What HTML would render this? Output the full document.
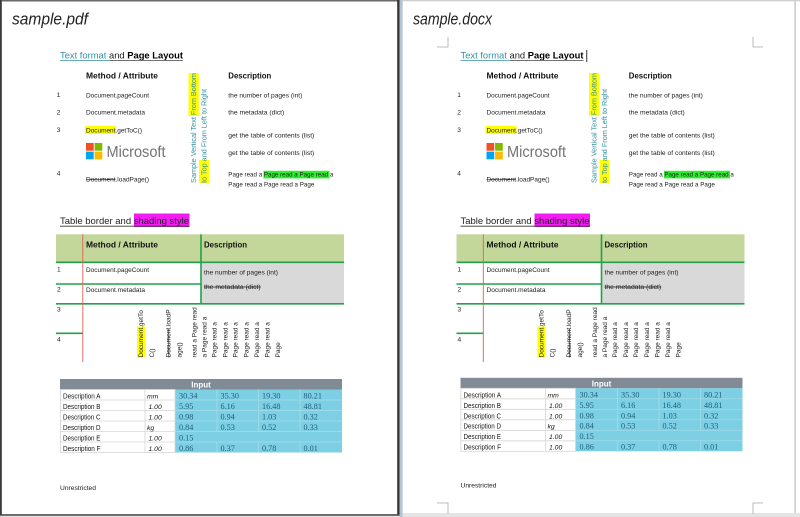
<!DOCTYPE html>
<html>
<head>
<meta charset="utf-8">
<style>
html,body{margin:0;padding:0;background:#e2e2e2;}
svg{display:block;}
</style>
</head>
<body>
<svg xmlns="http://www.w3.org/2000/svg" width="800" height="517" viewBox="0 0 800 517" font-family="'Liberation Sans', Arial, sans-serif">
<!-- backgrounds / frames -->
<rect x="0" y="0" width="800" height="517" fill="#e2e2e2"/>
<rect x="0" y="0" width="399.5" height="515.5" fill="#ffffff"/>
<rect x="0" y="0" width="399.5" height="1.5" fill="#6a6a6a"/>
<rect x="0" y="0" width="1.8" height="515.5" fill="#3a3a3a"/>
<rect x="397.2" y="0" width="2.3" height="515.5" fill="#333333"/>
<rect x="0" y="514.2" width="399.5" height="1.5" fill="#444444"/>
<rect x="399.5" y="0" width="3.2" height="517" fill="#b4c2d6"/>
<rect x="402.7" y="0" width="397.3" height="513" fill="#ffffff"/>
<rect x="402.7" y="0" width="397.3" height="1.3" fill="#cfcfcf"/>
<rect x="794.3" y="0" width="1.7" height="513" fill="#cfcfcf"/>
<rect x="402.7" y="513" width="397.3" height="4" fill="#e4e4e4"/>

<!-- corner marks right page -->
<g fill="none" stroke="#a8a8a8" stroke-width="0.8">
<polyline points="437,47 448,47 448,37"/>
<polyline points="753,37 753,47 763,47"/>
<polyline points="437,503 448,503 448,514"/>
<polyline points="763,503 753,503 753,514"/>
</g>

<!-- titles -->
<text x="12" y="24.5" font-size="17" font-style="italic" fill="#222" textLength="76" lengthAdjust="spacingAndGlyphs">sample.pdf</text>
<text x="413" y="24.5" font-size="17" font-style="italic" fill="#222" textLength="79" lengthAdjust="spacingAndGlyphs">sample.docx</text>

<!-- ================= LEFT PAGE ================= -->
<g>
<!-- Section 1 -->
<text x="60" y="58.3" font-size="9.3" fill="#222" textLength="123" lengthAdjust="spacingAndGlyphs"><tspan fill="#3590a5">Text format</tspan> and <tspan font-weight="bold" fill="#000">Page Layout</tspan></text>
<line x1="60" y1="60.4" x2="110" y2="60.4" stroke="#3590a5" stroke-width="0.8"/>
<line x1="110" y1="60.4" x2="183" y2="60.4" stroke="#444" stroke-width="0.8"/>

<text x="86" y="78.5" font-size="8.4" font-weight="bold" fill="#111" textLength="72" lengthAdjust="spacingAndGlyphs">Method / Attribute</text>
<text x="228.3" y="78.5" font-size="8.4" font-weight="bold" fill="#111" textLength="43" lengthAdjust="spacingAndGlyphs">Description</text>

<g font-size="6.6" fill="#222">
<text x="56.7" y="97">1</text>
<text x="86" y="97.3" textLength="63" lengthAdjust="spacingAndGlyphs">Document.pageCount</text>
<text x="228.3" y="97.3" textLength="74" lengthAdjust="spacingAndGlyphs">the number of pages (int)</text>
<text x="56.7" y="114.5">2</text>
<text x="86" y="114.7" textLength="59" lengthAdjust="spacingAndGlyphs">Document.metadata</text>
<text x="228.3" y="114.7" textLength="56" lengthAdjust="spacingAndGlyphs">the metadata (dict)</text>
<text x="56.7" y="132">3</text>
<rect x="85" y="126" width="31" height="8" fill="#ffff00"/>
<text x="86" y="132.3" textLength="56" lengthAdjust="spacingAndGlyphs">Document.getToC()</text>
<text x="228.3" y="137.7" textLength="86" lengthAdjust="spacingAndGlyphs">get the table of contents (list)</text>
<text x="228.3" y="155.2" textLength="86" lengthAdjust="spacingAndGlyphs">get the table of contents (list)</text>
<text x="56.7" y="175.5">4</text>
<text x="86" y="181.7" textLength="63" lengthAdjust="spacingAndGlyphs">Document.loadPage()</text>
<line x1="86" y1="179.3" x2="115.5" y2="179.3" stroke="#222" stroke-width="0.7"/>
<rect x="263.5" y="170.8" width="66" height="7.6" fill="#2bf02b"/>
<text x="228.3" y="176.7" textLength="105" lengthAdjust="spacingAndGlyphs">Page read a Page read a Page read a</text>
<text x="228.3" y="186.3" textLength="86" lengthAdjust="spacingAndGlyphs">Page read a Page read a Page</text>
</g>
<!-- Microsoft logo -->
<rect x="86" y="143" width="7.7" height="7.7" fill="#f25022"/>
<rect x="94.6" y="143" width="7.7" height="7.7" fill="#7fba00"/>
<rect x="86" y="151.6" width="7.7" height="7.7" fill="#00a4ef"/>
<rect x="94.6" y="151.6" width="7.7" height="7.7" fill="#ffb900"/>
<text x="106.5" y="156.8" font-size="15.5" fill="#737373" textLength="59" lengthAdjust="spacingAndGlyphs">Microsoft</text>
<!-- vertical text -->
<rect x="188.5" y="73" width="10.3" height="43" fill="#ffff00"/>
<rect x="199" y="160" width="10" height="23" fill="#ffff00"/>
<text transform="translate(196,183) rotate(-90)" font-size="7.6" fill="#3590a5" textLength="110" lengthAdjust="spacingAndGlyphs">Sample Vertical Text From Bottom</text>
<text transform="translate(206.5,183) rotate(-90)" font-size="7.6" fill="#3590a5" textLength="94" lengthAdjust="spacingAndGlyphs">to Top and From Left to Right</text>

<!-- Section 2 -->
<rect x="134" y="213.5" width="55.5" height="13.5" fill="#f01cf0"/>
<text x="60" y="223.8" font-size="9.4" fill="#222" textLength="129" lengthAdjust="spacingAndGlyphs">Table border and shading style</text>
<line x1="60" y1="226.2" x2="189.5" y2="226.2" stroke="#333" stroke-width="0.8"/>

<rect x="56" y="234.3" width="288" height="27.7" fill="#c4d79b"/>
<rect x="201.5" y="263" width="142.5" height="40.5" fill="#d9d9d9"/>
<g stroke="#22a04a" stroke-width="1.6">
<line x1="56" y1="262.3" x2="344" y2="262.3"/>
<line x1="56" y1="284" x2="201" y2="284"/>
<line x1="56" y1="303.8" x2="344" y2="303.8"/>
<line x1="56" y1="333.3" x2="83" y2="333.3"/>
<line x1="201" y1="234.3" x2="201" y2="304.5"/>
</g>
<line x1="82.8" y1="234.3" x2="82.8" y2="362" stroke="#e06050" stroke-width="0.9"/>

<text x="86" y="247.3" font-size="8.4" font-weight="bold" fill="#111" textLength="72" lengthAdjust="spacingAndGlyphs">Method / Attribute</text>
<text x="204" y="247.3" font-size="8.4" font-weight="bold" fill="#111" textLength="43" lengthAdjust="spacingAndGlyphs">Description</text>
<g font-size="6.6" fill="#222">
<text x="57" y="271.5">1</text>
<text x="86" y="272" textLength="63" lengthAdjust="spacingAndGlyphs">Document.pageCount</text>
<text x="204" y="274.5" textLength="74" lengthAdjust="spacingAndGlyphs">the number of pages (int)</text>
<text x="57" y="291.5">2</text>
<text x="86" y="292" textLength="59" lengthAdjust="spacingAndGlyphs">Document.metadata</text>
<text x="204" y="289" textLength="56.7" lengthAdjust="spacingAndGlyphs">the metadata (dict)</text>
<line x1="204" y1="287" x2="260.7" y2="287" stroke="#222" stroke-width="0.7"/>
<text x="57" y="311.5">3</text>
<text x="57" y="341.5">4</text>
</g>
<rect x="137" y="326.5" width="8" height="31" fill="#ffff00"/>
<g font-size="6.5" fill="#222">
<text transform="translate(142.8,357.5) rotate(-90)">Document.getTo</text>
<text transform="translate(154,357.5) rotate(-90)">C()</text>
<text transform="translate(170.6,357.5) rotate(-90)">Document.loadP</text>
<text transform="translate(181.6,357.5) rotate(-90)">age()</text>
<text transform="translate(196.6,357.5) rotate(-90)">read a Page read</text>
<text transform="translate(206.6,357.5) rotate(-90)">a Page read a</text>
<text transform="translate(216.6,357.5) rotate(-90)">Page read a</text>
<text transform="translate(227.3,357.5) rotate(-90)">Page read a</text>
<text transform="translate(237.6,357.5) rotate(-90)">Page read a</text>
<text transform="translate(248.3,357.5) rotate(-90)">Page read a</text>
<text transform="translate(259,357.5) rotate(-90)">Page read a</text>
<text transform="translate(269.6,357.5) rotate(-90)">Page read a</text>
<text transform="translate(280,357.5) rotate(-90)">Page</text>
</g>
<line x1="168.8" y1="357.5" x2="168.8" y2="328.5" stroke="#222" stroke-width="0.7"/>

<!-- Section 3 -->
<g>
<rect x="60" y="379" width="282" height="10.5" fill="#808b96"/>
<text x="201" y="387.6" font-size="8" font-weight="bold" fill="#fff" text-anchor="middle">Input</text>
<rect x="175" y="389.5" width="167" height="63" fill="#7dcfe4"/>
<g stroke="#a8dcea" stroke-width="0.7">
<line x1="175" y1="400" x2="342" y2="400"/>
<line x1="175" y1="410.5" x2="342" y2="410.5"/>
<line x1="175" y1="421" x2="342" y2="421"/>
<line x1="175" y1="431.5" x2="342" y2="431.5"/>
<line x1="175" y1="442" x2="342" y2="442"/>
<line x1="217" y1="389.5" x2="217" y2="431.5"/>
<line x1="258.5" y1="389.5" x2="258.5" y2="431.5"/>
<line x1="300" y1="389.5" x2="300" y2="431.5"/>
<line x1="217" y1="442" x2="217" y2="452.5"/>
<line x1="258.5" y1="442" x2="258.5" y2="452.5"/>
<line x1="300" y1="442" x2="300" y2="452.5"/>
</g>
<g stroke="#d6d6d6" stroke-width="0.8" fill="none">
<rect x="60.4" y="389.5" width="114.6" height="63"/>
<line x1="60" y1="400" x2="175" y2="400"/>
<line x1="60" y1="410.5" x2="175" y2="410.5"/>
<line x1="60" y1="421" x2="175" y2="421"/>
<line x1="60" y1="431.5" x2="175" y2="431.5"/>
<line x1="60" y1="442" x2="175" y2="442"/>
<line x1="145" y1="389.5" x2="145" y2="452.5"/>
</g>
<g font-size="7.2" fill="#111">
<text x="63" y="398.6" textLength="37.5" lengthAdjust="spacingAndGlyphs">Description A</text>
<text x="63" y="409.05" textLength="37.5" lengthAdjust="spacingAndGlyphs">Description B</text>
<text x="63" y="419.5" textLength="37.5" lengthAdjust="spacingAndGlyphs">Description C</text>
<text x="63" y="429.95" textLength="37.5" lengthAdjust="spacingAndGlyphs">Description D</text>
<text x="63" y="440.4" textLength="37.5" lengthAdjust="spacingAndGlyphs">Description E</text>
<text x="63" y="450.85" textLength="37.5" lengthAdjust="spacingAndGlyphs">Description F</text>
</g>
<g font-size="6.8" font-style="italic" fill="#111">
<text x="147" y="398.6">mm</text>
<text x="148.5" y="409.05">1.00</text>
<text x="148.5" y="419.5">1.00</text>
<text x="147" y="429.95">kg</text>
<text x="148.5" y="440.4">1.00</text>
<text x="148.5" y="450.85">1.00</text>
</g>
<g font-family="'Liberation Serif', 'Times New Roman', serif" font-size="8.2" fill="#205f7c">
<text x="179" y="398.6">30.34</text><text x="220.5" y="398.6">35.30</text><text x="262" y="398.6">19.30</text><text x="303.5" y="398.6">80.21</text>
<text x="179" y="409.05">5.95</text><text x="220.5" y="409.05">6.16</text><text x="262" y="409.05">16.48</text><text x="303.5" y="409.05">48.81</text>
<text x="179" y="419.5">0.98</text><text x="220.5" y="419.5">0.94</text><text x="262" y="419.5">1.03</text><text x="303.5" y="419.5">0.32</text>
<text x="179" y="429.95">0.84</text><text x="220.5" y="429.95">0.53</text><text x="262" y="429.95">0.52</text><text x="303.5" y="429.95">0.33</text>
<text x="179" y="440.4">0.15</text>
<text x="179" y="450.85">0.86</text><text x="220.5" y="450.85">0.37</text><text x="262" y="450.85">0.78</text><text x="303.5" y="450.85">0.01</text>
</g>
</g>
<text x="60" y="490" font-size="6.7" fill="#222" textLength="36" lengthAdjust="spacingAndGlyphs">Unrestricted</text>
</g>

<!-- ================= RIGHT PAGE ================= -->
<g transform="translate(400.5,0)">
<!-- Section 1 -->
<text x="60" y="58.3" font-size="9.3" fill="#222" textLength="123" lengthAdjust="spacingAndGlyphs"><tspan fill="#3590a5">Text format</tspan> and <tspan font-weight="bold" fill="#000">Page Layout</tspan></text>
<line x1="60" y1="60.4" x2="110" y2="60.4" stroke="#3590a5" stroke-width="0.8"/>
<line x1="110" y1="60.4" x2="183" y2="60.4" stroke="#444" stroke-width="0.8"/>
<line x1="186.3" y1="50" x2="186.3" y2="62" stroke="#000" stroke-width="0.8"/>

<text x="86" y="78.5" font-size="8.4" font-weight="bold" fill="#111" textLength="72" lengthAdjust="spacingAndGlyphs">Method / Attribute</text>
<text x="228.3" y="78.5" font-size="8.4" font-weight="bold" fill="#111" textLength="43" lengthAdjust="spacingAndGlyphs">Description</text>

<g font-size="6.6" fill="#222">
<text x="56.7" y="97">1</text>
<text x="86" y="97.3" textLength="63" lengthAdjust="spacingAndGlyphs">Document.pageCount</text>
<text x="228.3" y="97.3" textLength="74" lengthAdjust="spacingAndGlyphs">the number of pages (int)</text>
<text x="56.7" y="114.5">2</text>
<text x="86" y="114.7" textLength="59" lengthAdjust="spacingAndGlyphs">Document.metadata</text>
<text x="228.3" y="114.7" textLength="56" lengthAdjust="spacingAndGlyphs">the metadata (dict)</text>
<text x="56.7" y="132">3</text>
<rect x="85" y="126" width="31" height="8" fill="#ffff00"/>
<text x="86" y="132.3" textLength="56" lengthAdjust="spacingAndGlyphs">Document.getToC()</text>
<text x="228.3" y="137.7" textLength="86" lengthAdjust="spacingAndGlyphs">get the table of contents (list)</text>
<text x="228.3" y="155.2" textLength="86" lengthAdjust="spacingAndGlyphs">get the table of contents (list)</text>
<text x="56.7" y="175.5">4</text>
<text x="86" y="181.7" textLength="63" lengthAdjust="spacingAndGlyphs">Document.loadPage()</text>
<line x1="86" y1="179.3" x2="115.5" y2="179.3" stroke="#222" stroke-width="0.7"/>
<rect x="263.5" y="170.8" width="66" height="7.6" fill="#2bf02b"/>
<text x="228.3" y="176.7" textLength="105" lengthAdjust="spacingAndGlyphs">Page read a Page read a Page read a</text>
<text x="228.3" y="186.3" textLength="86" lengthAdjust="spacingAndGlyphs">Page read a Page read a Page</text>
</g>
<rect x="86" y="143" width="7.7" height="7.7" fill="#f25022"/>
<rect x="94.6" y="143" width="7.7" height="7.7" fill="#7fba00"/>
<rect x="86" y="151.6" width="7.7" height="7.7" fill="#00a4ef"/>
<rect x="94.6" y="151.6" width="7.7" height="7.7" fill="#ffb900"/>
<text x="106.5" y="156.8" font-size="15.5" fill="#737373" textLength="59" lengthAdjust="spacingAndGlyphs">Microsoft</text>
<rect x="188.5" y="73" width="10.3" height="43" fill="#ffff00"/>
<rect x="199" y="160" width="10" height="23" fill="#ffff00"/>
<text transform="translate(196,183) rotate(-90)" font-size="7.6" fill="#3590a5" textLength="110" lengthAdjust="spacingAndGlyphs">Sample Vertical Text From Bottom</text>
<text transform="translate(206.5,183) rotate(-90)" font-size="7.6" fill="#3590a5" textLength="94" lengthAdjust="spacingAndGlyphs">to Top and From Left to Right</text>

<!-- Section 2 -->
<rect x="134" y="213.5" width="55.5" height="13.5" fill="#f01cf0"/>
<text x="60" y="223.8" font-size="9.4" fill="#222" textLength="129" lengthAdjust="spacingAndGlyphs">Table border and shading style</text>
<line x1="60" y1="226.2" x2="189.5" y2="226.2" stroke="#333" stroke-width="0.8"/>

<rect x="56" y="234.3" width="288" height="27.7" fill="#c4d79b"/>
<rect x="201.5" y="263" width="142.5" height="40.5" fill="#d9d9d9"/>
<g stroke="#22a04a" stroke-width="1.6">
<line x1="56" y1="262.3" x2="344" y2="262.3"/>
<line x1="56" y1="284" x2="201" y2="284"/>
<line x1="56" y1="303.8" x2="344" y2="303.8"/>
<line x1="56" y1="333.3" x2="83" y2="333.3"/>
<line x1="201" y1="234.3" x2="201" y2="304.5"/>
</g>
<line x1="82.8" y1="234.3" x2="82.8" y2="362" stroke="#e06050" stroke-width="0.9"/>

<text x="86" y="247.3" font-size="8.4" font-weight="bold" fill="#111" textLength="72" lengthAdjust="spacingAndGlyphs">Method / Attribute</text>
<text x="204" y="247.3" font-size="8.4" font-weight="bold" fill="#111" textLength="43" lengthAdjust="spacingAndGlyphs">Description</text>
<g font-size="6.6" fill="#222">
<text x="57" y="271.5">1</text>
<text x="86" y="272" textLength="63" lengthAdjust="spacingAndGlyphs">Document.pageCount</text>
<text x="204" y="274.5" textLength="74" lengthAdjust="spacingAndGlyphs">the number of pages (int)</text>
<text x="57" y="291.5">2</text>
<text x="86" y="292" textLength="59" lengthAdjust="spacingAndGlyphs">Document.metadata</text>
<text x="204" y="289" textLength="56.7" lengthAdjust="spacingAndGlyphs">the metadata (dict)</text>
<line x1="204" y1="287" x2="260.7" y2="287" stroke="#222" stroke-width="0.7"/>
<text x="57" y="311.5">3</text>
<text x="57" y="341.5">4</text>
</g>
<rect x="137" y="326.5" width="8" height="31" fill="#ffff00"/>
<g font-size="6.5" fill="#222">
<text transform="translate(142.8,357.5) rotate(-90)">Document.getTo</text>
<text transform="translate(154,357.5) rotate(-90)">C()</text>
<text transform="translate(170.6,357.5) rotate(-90)">Document.loadP</text>
<text transform="translate(181.6,357.5) rotate(-90)">age()</text>
<text transform="translate(196.6,357.5) rotate(-90)">read a Page read</text>
<text transform="translate(206.6,357.5) rotate(-90)">a Page read a</text>
<text transform="translate(216.6,357.5) rotate(-90)">Page read a</text>
<text transform="translate(227.3,357.5) rotate(-90)">Page read a</text>
<text transform="translate(237.6,357.5) rotate(-90)">Page read a</text>
<text transform="translate(248.3,357.5) rotate(-90)">Page read a</text>
<text transform="translate(259,357.5) rotate(-90)">Page read a</text>
<text transform="translate(269.6,357.5) rotate(-90)">Page read a</text>
<text transform="translate(280,357.5) rotate(-90)">Page</text>
</g>
<line x1="168.8" y1="357.5" x2="168.8" y2="328.5" stroke="#222" stroke-width="0.7"/>

<!-- Section 3 -->
<g transform="translate(0,-1.2)">
<rect x="60" y="379" width="282" height="10.5" fill="#808b96"/>
<text x="201" y="387.6" font-size="8" font-weight="bold" fill="#fff" text-anchor="middle">Input</text>
<rect x="175" y="389.5" width="167" height="63" fill="#7dcfe4"/>
<g stroke="#a8dcea" stroke-width="0.7">
<line x1="175" y1="400" x2="342" y2="400"/>
<line x1="175" y1="410.5" x2="342" y2="410.5"/>
<line x1="175" y1="421" x2="342" y2="421"/>
<line x1="175" y1="431.5" x2="342" y2="431.5"/>
<line x1="175" y1="442" x2="342" y2="442"/>
<line x1="217" y1="389.5" x2="217" y2="431.5"/>
<line x1="258.5" y1="389.5" x2="258.5" y2="431.5"/>
<line x1="300" y1="389.5" x2="300" y2="431.5"/>
<line x1="217" y1="442" x2="217" y2="452.5"/>
<line x1="258.5" y1="442" x2="258.5" y2="452.5"/>
<line x1="300" y1="442" x2="300" y2="452.5"/>
</g>
<g stroke="#d6d6d6" stroke-width="0.8" fill="none">
<rect x="60.4" y="389.5" width="114.6" height="63"/>
<line x1="60" y1="400" x2="175" y2="400"/>
<line x1="60" y1="410.5" x2="175" y2="410.5"/>
<line x1="60" y1="421" x2="175" y2="421"/>
<line x1="60" y1="431.5" x2="175" y2="431.5"/>
<line x1="60" y1="442" x2="175" y2="442"/>
<line x1="145" y1="389.5" x2="145" y2="452.5"/>
</g>
<g font-size="7.2" fill="#111">
<text x="63" y="398.6" textLength="37.5" lengthAdjust="spacingAndGlyphs">Description A</text>
<text x="63" y="409.05" textLength="37.5" lengthAdjust="spacingAndGlyphs">Description B</text>
<text x="63" y="419.5" textLength="37.5" lengthAdjust="spacingAndGlyphs">Description C</text>
<text x="63" y="429.95" textLength="37.5" lengthAdjust="spacingAndGlyphs">Description D</text>
<text x="63" y="440.4" textLength="37.5" lengthAdjust="spacingAndGlyphs">Description E</text>
<text x="63" y="450.85" textLength="37.5" lengthAdjust="spacingAndGlyphs">Description F</text>
</g>
<g font-size="6.8" font-style="italic" fill="#111">
<text x="147" y="398.6">mm</text>
<text x="148.5" y="409.05">1.00</text>
<text x="148.5" y="419.5">1.00</text>
<text x="147" y="429.95">kg</text>
<text x="148.5" y="440.4">1.00</text>
<text x="148.5" y="450.85">1.00</text>
</g>
<g font-family="'Liberation Serif', 'Times New Roman', serif" font-size="8.2" fill="#205f7c">
<text x="179" y="398.6">30.34</text><text x="220.5" y="398.6">35.30</text><text x="262" y="398.6">19.30</text><text x="303.5" y="398.6">80.21</text>
<text x="179" y="409.05">5.95</text><text x="220.5" y="409.05">6.16</text><text x="262" y="409.05">16.48</text><text x="303.5" y="409.05">48.81</text>
<text x="179" y="419.5">0.98</text><text x="220.5" y="419.5">0.94</text><text x="262" y="419.5">1.03</text><text x="303.5" y="419.5">0.32</text>
<text x="179" y="429.95">0.84</text><text x="220.5" y="429.95">0.53</text><text x="262" y="429.95">0.52</text><text x="303.5" y="429.95">0.33</text>
<text x="179" y="440.4">0.15</text>
<text x="179" y="450.85">0.86</text><text x="220.5" y="450.85">0.37</text><text x="262" y="450.85">0.78</text><text x="303.5" y="450.85">0.01</text>
</g>
</g>
<text x="60" y="487.6" font-size="6.7" fill="#222" textLength="36" lengthAdjust="spacingAndGlyphs">Unrestricted</text>
</g>
</svg>
</body>
</html>
